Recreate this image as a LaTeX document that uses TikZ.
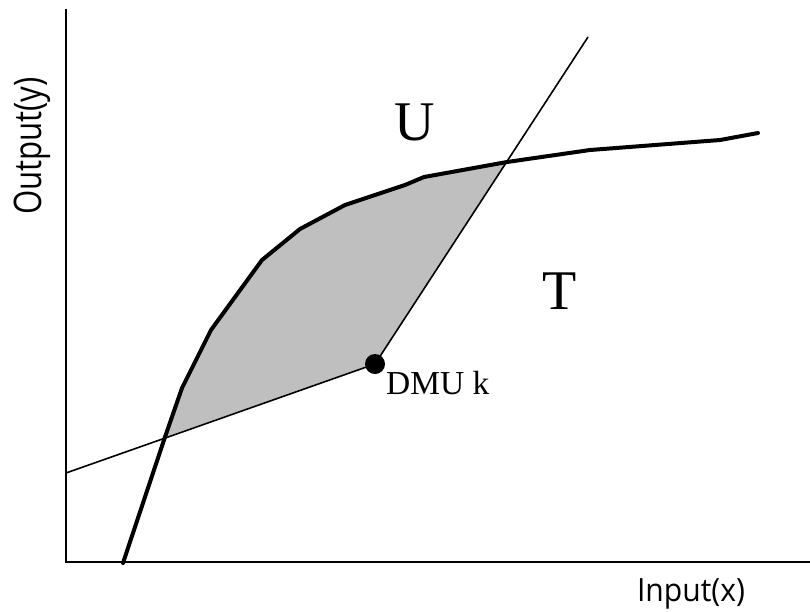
\documentclass[tikz,border=0pt]{standalone}
\usepackage{fontspec}
\setmainfont{Liberation Serif}
\newfontfamily\inputsans[FakeStretch=0.94]{Open Sans}
\newfontfamily\outputsans[FakeStretch=0.82]{Open Sans}
\begin{document}
\begin{tikzpicture}[x=1pt,y=-1pt,
  axisline/.style={line width=2pt,black},
  thinline/.style={line width=1.6pt,black},
  frontier/.style={line width=4pt,black,line join=round,line cap=round},
  region/.style={fill=black!25,draw=none},
  biglabel/.style={font=\fontsize{56}{60}\selectfont,inner sep=0pt,anchor=base},
  dmulabel/.style={font=\fontsize{33.5}{36}\selectfont,inner sep=0pt,anchor=base west},
  axislabel/.style={inner sep=0pt,anchor=base}]
\useasboundingbox (0,0) rectangle (810,611);
% coordinates
\coordinate (o) at (66,562);
\coordinate (ytop) at (66,9);
\coordinate (xend) at (810,562);
\coordinate (fa) at (123,563);
\coordinate (p1) at (165,437);
\coordinate (p2) at (182,388);
\coordinate (p3) at (211,330);
\coordinate (p4) at (262,260);
\coordinate (p5) at (300,229);
\coordinate (p6) at (345,205);
\coordinate (p7) at (405,185);
\coordinate (p8) at (424,177);
\coordinate (p9) at (507,162);
\coordinate (p10) at (590,150);
\coordinate (p11) at (720,140);
\coordinate (fb) at (758,133);
\coordinate (lowstart) at (66,473);
\coordinate (steeptop) at (588,37);
\coordinate (dmu) at (375,364);
% shaded region
\fill[region] (p1) -- (p2) -- (p3) -- (p4) -- (p5) -- (p6) -- (p7) -- (p8) -- (p9) -- (dmu) -- cycle;
% axes
\draw[axisline] (ytop) -- (o) -- (xend);
% thin lines
\draw[thinline] (lowstart) -- (dmu);
\draw[thinline] (dmu) -- (steeptop);
% frontier
\draw[frontier] (fa) -- (p1) -- (p2) -- (p3) -- (p4) -- (p5) -- (p6) -- (p7) -- (p8) -- (p9) -- (p10) -- (p11) -- (fb);
% DMU point
\fill (dmu) circle (10pt);
% labels
\node[biglabel] (U) at (415,140) {U};
\node[biglabel] (T) at (560,309) {T};
\node[dmulabel] (dmuk) at (386,394) {DMU k};
\node[axislabel,font=\inputsans\fontsize{32}{36}\selectfont] (xlab) at (691,601.5) {Input(x)};
\node[axislabel,font=\outputsans\fontsize{38}{42}\selectfont,rotate=90] (ylab) at (41.5,146) {Output(y)};
\end{tikzpicture}
\end{document}
